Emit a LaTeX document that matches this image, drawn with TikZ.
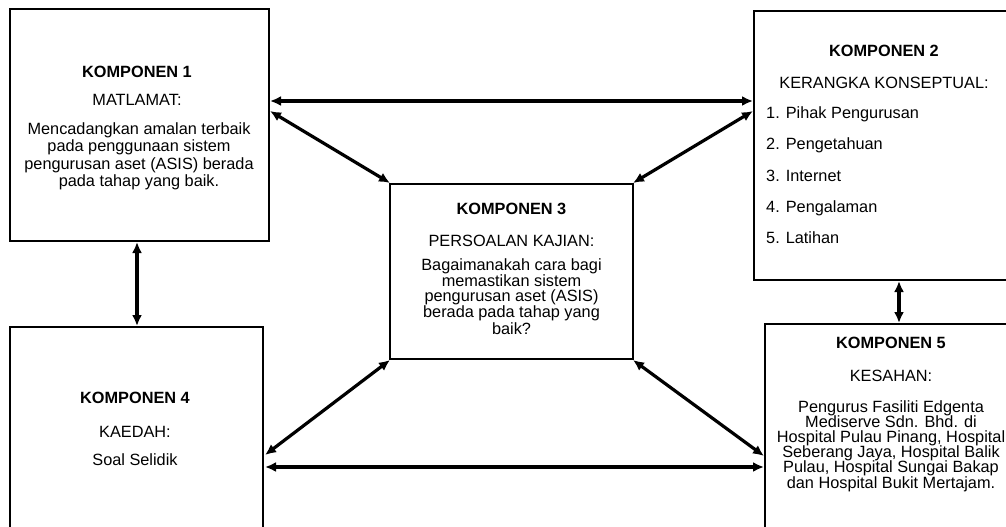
\documentclass[tikz,border=0pt]{standalone}
\usepackage{fontspec}
\setmainfont{Liberation Sans}
\usetikzlibrary{arrows.meta}
\begin{document}
\begin{tikzpicture}[x=1pt,y=-1pt,
  boxnode/.style={draw=black,line width=2.4pt,rectangle,inner sep=0pt},
  ttl/.style={anchor=base,inner sep=0pt,font=\fontsize{16.3}{17}\selectfont\bfseries},
  sub/.style={anchor=base,inner sep=0pt,font=\fontsize{16.3}{17}\selectfont},
  body/.style={anchor=north,inner sep=0pt,align=center},
  conn/.style={line width=3.2pt,{Latex[length=11pt,width=10pt]}-{Latex[length=11pt,width=10pt]}}]
\useasboundingbox (0,0) rectangle (1006,527);
\clip (0,0) rectangle (1006,527);
% boxes
\node[boxnode,minimum width=259pt,minimum height=232pt] (b1) at (139.5,125) {};
\node[boxnode,minimum width=262pt,minimum height=269pt] (b2) at (885,145.5) {};
\node[boxnode,minimum width=243pt,minimum height=175pt] (b3) at (511.5,271.5) {};
\node[boxnode,minimum width=253pt,minimum height=220pt] (b4) at (136.5,437) {};
\node[boxnode,minimum width=254pt,minimum height=220pt] (b5) at (892,434) {};
% box 1 text
\node[ttl] (t1) at (137,77.5) {KOMPONEN 1};
\node[sub] (s1) at (137,105.5) {MATLAMAT:};
\node[body,font=\fontsize{16.3}{17.5}\selectfont] (x1) at (139,122) {Mencadangkan amalan terbaik\\pada penggunaan sistem\\pengurusan aset (ASIS) berada\\pada tahap yang baik.};
% box 2 text
\node[ttl] (t2) at (884,56.5) {KOMPONEN 2};
\node[sub] (s2) at (884,88.5) {KERANGKA KONSEPTUAL:};
\node[sub,anchor=base west] (i1) at (766,118.5) {1. Pihak Pengurusan};
\node[sub,anchor=base west] (i2) at (766,149.75) {2. Pengetahuan};
\node[sub,anchor=base west] (i3) at (766,181) {3. Internet};
\node[sub,anchor=base west] (i4) at (766,212.25) {4. Pengalaman};
\node[sub,anchor=base west] (i5) at (766,243.5) {5. Latihan};
% box 3 text
\node[ttl] (t3) at (511.5,214.5) {KOMPONEN 3};
\node[sub] (s3) at (511.5,246.5) {PERSOALAN KAJIAN:};
\node[body,font=\fontsize{16.3}{15}\selectfont] (x3) at (511.5,258.5) {Bagaimanakah cara bagi\\memastikan sistem\\pengurusan aset (ASIS)\\berada pada tahap yang\\baik?};
% box 4 text
\node[ttl] (t4) at (135,403.5) {KOMPONEN 4};
\node[sub] (s4) at (135,437.5) {KAEDAH:};
\node[sub] (x4) at (135,465) {Soal Selidik};
% box 5 text
\node[ttl] (t5) at (891,348.5) {KOMPONEN 5};
\node[sub] (s5) at (891,381.5) {KESAHAN:};
\node[body,font=\fontsize{16.3}{15.2}\selectfont] (x5) at (891,400) {Pengurus Fasiliti Edgenta\\Mediserve Sdn. Bhd. di\\Hospital Pulau Pinang, Hospital\\Seberang Jaya, Hospital Balik\\Pulau, Hospital Sungai Bakap\\dan Hospital Bukit Mertajam.};
% connectors
\coordinate (a1) at (270,101);
\coordinate (a2) at (753,101);
\draw[conn] (a1) -- (a2);
\coordinate (c1) at (270,111);
\coordinate (c2) at (390,183);
\draw[conn] (c1) -- (c2);
\coordinate (d1) at (753,111);
\coordinate (d2) at (633,183);
\draw[conn] (d1) -- (d2);
\coordinate (e1) at (137,242);
\coordinate (e2) at (137,326);
\draw[conn] (e1) -- (e2);
\coordinate (f1) at (899,281);
\coordinate (f2) at (899,323);
\draw[conn] (f1) -- (f2);
\coordinate (g1) at (390,360);
\coordinate (g2) at (265,455);
\draw[conn] (g1) -- (g2);
\coordinate (h1) at (633,360);
\coordinate (h2) at (764,456);
\draw[conn] (h1) -- (h2);
\coordinate (k1) at (265,467);
\coordinate (k2) at (764,467);
\draw[conn] (k1) -- (k2);
\end{tikzpicture}
\end{document}
